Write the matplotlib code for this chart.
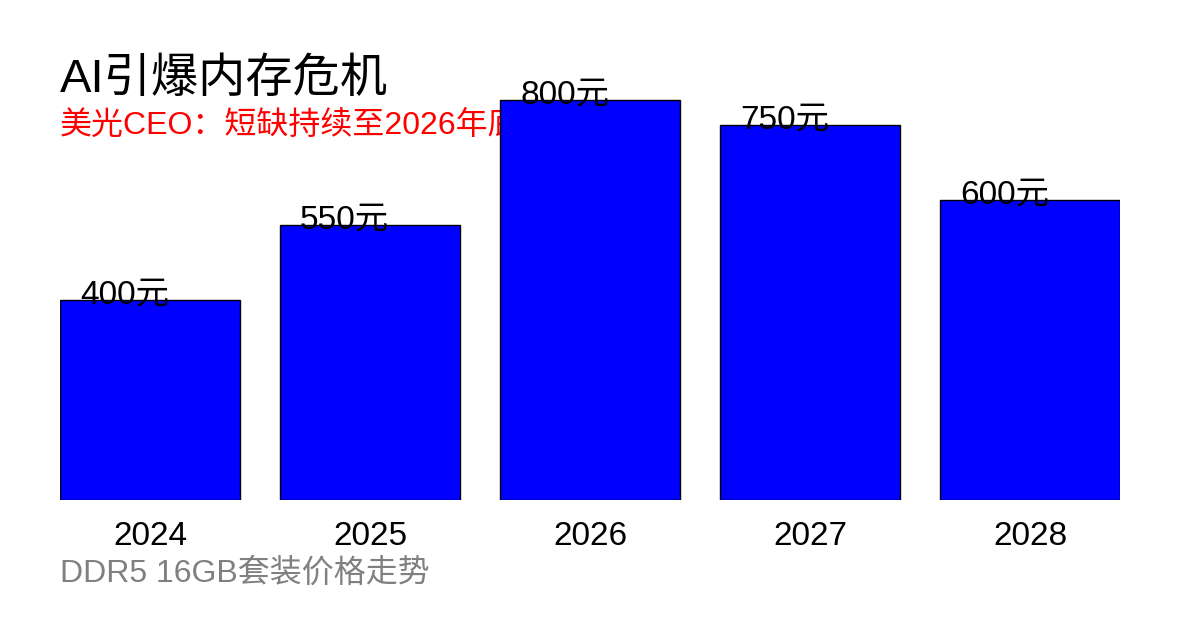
import matplotlib
matplotlib.use("Agg")
import matplotlib.pyplot as plt
import numpy as np

plt.rcParams['font.family'] = ['Liberation Sans', 'Noto Sans CJK SC', 'DejaVu Sans']

years = ['2024', '2025', '2026', '2027', '2028']
prices = [400, 550, 800, 750, 600]
labels = [f'{p}元' for p in prices]

title = 'AI引爆内存危机'
subtitle = '美光CEO：短缺持续至2026年底'
footer = 'DDR5 16GB套装价格走势'

W, H = 1200, 630
fig = plt.figure(figsize=(W / 100, H / 100), dpi=100)
fig.patch.set_facecolor('white')

# axes: x 60..1120 px, baseline at y=500 px, 0.5 px per unit
ax = fig.add_axes([60 / W, 130 / H, 1060 / W, 500 / H])
ax.set_facecolor('none')
ax.set_zorder(1)

x = np.arange(len(years))
bw = 180 / 220
ax.bar(x, prices, width=bw, color='#0000ff', edgecolor='black', linewidth=1)
ax.set_xlim(-bw / 2, len(years) - 1 + bw / 2)
ax.set_ylim(0, 1000)

for xi, p, lab in zip(x, prices, labels):
    ax.annotate(lab, (xi - bw / 2, p), xytext=(14.4, -2.2), textcoords='offset points',
                fontsize=24, ha='left', va='baseline', color='black', annotation_clip=False)

ax.set_xticks(x)
ax.set_xticklabels(years, fontsize=24)
ax.tick_params(axis='x', length=0, pad=15)
ax.set_yticks([])
for s in ax.spines.values():
    s.set_visible(False)

fig.text(60 / W, 1 - 92 / H, title, fontsize=34, ha='left', va='baseline', color='black')
fig.text(60 / W, 1 - 134 / H, subtitle, fontsize=23, ha='left', va='baseline', color='red', zorder=-1)
fig.text(60 / W, 1 - 582 / H, footer, fontsize=23, ha='left', va='baseline', color='#808080')

fig.savefig('out.png', dpi=100)
